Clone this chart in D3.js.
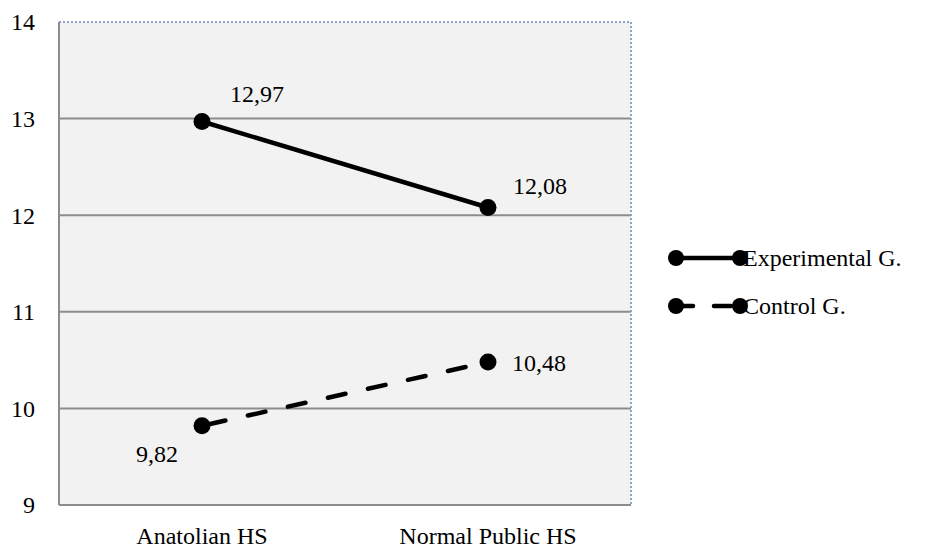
<!DOCTYPE html>
<html><head><meta charset="utf-8">
<script src="https://cdn.jsdelivr.net/npm/d3@7"></script>
<style>body{margin:0;background:#fff}svg{display:block}text{font-family:"Liberation Serif","Times New Roman",serif;fill:#000}</style>
</head><body>
<svg id="c" width="926" height="549"></svg>
<script>
const categories = ["Anatolian HS", "Normal Public HS"];
const experimental = [12.97, 12.08];
const control = [9.82, 10.48];
const seriesNames = ["Experimental G.", "Control G."];
const yTicks = [9, 10, 11, 12, 13, 14];
const labelsExp = ["12,97", "12,08"];
const labelsCtl = ["9,82", "10,48"];

const FS = 24;
const svg = d3.select("#c");
const L = 59, T = 22, R = 631, B = 505;
const x = d3.scaleBand().domain(categories).range([L, R]);
const y = d3.scaleLinear().domain([9, 14]).range([B, T]);
const cx = c => x(c) + x.bandwidth() / 2;

svg.append("rect").attr("x", L).attr("y", T).attr("width", R - L).attr("height", B - T).attr("fill", "#f2f2f2");
svg.append("g").selectAll("line").data(yTicks.filter(t => t > 9 && t < 14)).join("line")
  .attr("x1", L).attr("x2", R).attr("y1", d => y(d)).attr("y2", d => y(d))
  .attr("stroke", "#8c8c8c").attr("stroke-width", 2);
svg.append("line").attr("x1", L).attr("x2", R).attr("y1", T).attr("y2", T).attr("stroke", "#8fa3c8").attr("stroke-width", 2).attr("stroke-dasharray", "2,2");
svg.append("line").attr("x1", R).attr("x2", R).attr("y1", T).attr("y2", B).attr("stroke", "#8fa3c8").attr("stroke-width", 2).attr("stroke-dasharray", "2,2");
svg.append("line").attr("x1", L).attr("x2", L).attr("y1", T).attr("y2", B).attr("stroke", "#8c8c8c").attr("stroke-width", 2);
svg.append("line").attr("x1", L).attr("x2", R).attr("y1", B).attr("y2", B).attr("stroke", "#8c8c8c").attr("stroke-width", 2);

svg.append("g").selectAll("text").data(yTicks).join("text")
  .attr("x", 35).attr("y", d => y(d)).attr("dy", "0.35em").attr("text-anchor", "end")
  .attr("font-size", FS).text(d => d);
svg.append("g").selectAll("text").data(categories).join("text")
  .attr("x", d => cx(d)).attr("y", 544).attr("text-anchor", "middle")
  .attr("font-size", FS).text(d => d);

const line = d3.line().x((d, i) => cx(categories[i])).y(d => y(d));
svg.append("path").attr("d", line(experimental)).attr("fill", "none").attr("stroke", "#000").attr("stroke-width", 4.5).attr("stroke-linecap", "round");
svg.append("path").attr("d", line(control)).attr("fill", "none").attr("stroke", "#000").attr("stroke-width", 4.5).attr("stroke-linecap", "round").attr("stroke-dasharray", "18,23").attr("stroke-dashoffset", -6);

[experimental, control].forEach(s => {
  svg.append("g").selectAll("circle").data(s).join("circle")
    .attr("cx", (d, i) => cx(categories[i])).attr("cy", d => y(d)).attr("r", 8.5).attr("fill", "#000");
});

const lab = svg.append("g").attr("font-size", FS);
lab.append("text").attr("x", cx(categories[0]) + 28).attr("y", y(experimental[0]) - 19).text(labelsExp[0]);
lab.append("text").attr("x", cx(categories[1]) + 25).attr("y", y(experimental[1]) - 13).text(labelsExp[1]);
lab.append("text").attr("x", cx(categories[0]) - 66).attr("y", y(control[0]) + 36).text(labelsCtl[0]);
lab.append("text").attr("x", cx(categories[1]) + 24).attr("y", y(control[1]) + 9).text(labelsCtl[1]);

const lg = svg.append("g");
const ly = [258, 306];
seriesNames.forEach((n, i) => {
  const g = lg.append("g");
  g.append("line").attr("x1", 676).attr("x2", 740).attr("y1", ly[i]).attr("y2", ly[i])
    .attr("stroke", "#000").attr("stroke-width", 4.5).attr("stroke-linecap", "round")
    .attr("stroke-dasharray", i === 1 ? "17,21" : null);
  g.append("circle").attr("cx", 676).attr("cy", ly[i]).attr("r", 8).attr("fill", "#000");
  g.append("circle").attr("cx", 740).attr("cy", ly[i]).attr("r", 8).attr("fill", "#000");
  g.append("text").attr("x", 743).attr("y", ly[i]).attr("dy", "0.35em").attr("font-size", FS).text(n);
});
</script>
</body></html>
